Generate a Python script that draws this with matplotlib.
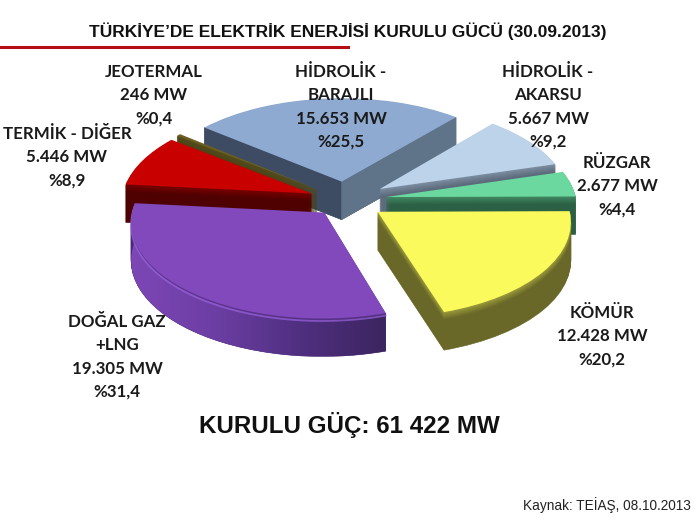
import matplotlib
matplotlib.use('Agg')
import matplotlib.pyplot as plt
import matplotlib.colors as mcolors
import numpy as np
from matplotlib.patches import Polygon
from matplotlib.transforms import Affine2D, Transform

# installed power, MW
names = ['HİDROLİK -\nBARAJLI', 'HİDROLİK -\nAKARSU', 'RÜZGAR', 'KÖMÜR',
         'DOĞAL GAZ\n+LNG', 'TERMİK - DİĞER', 'JEOTERMAL']
mw = [15653, 5667, 2677, 12428, 19305, 5446, 246]
mw_text = ['15.653 MW', '5.667 MW', '2.677 MW', '12.428 MW', '19.305 MW', '5.446 MW', '246 MW']
pct_text = ['%25,5', '%9,2', '%4,4', '%20,2', '%31,4', '%8,9', '%0,4']

top_colors = ['#8eaad1', '#bdd3ea', '#6bd99f', '#fafa5c', '#8149bb', '#c80000', '#6b5f22']
side_colors = ['#4a5a72', '#5c6b7c', '#2c6044', '#696829', '#4a2a75', '#4f0000', '#4a4218']
stack_order = [0, 1, 4, 6, 5, 3, 2]  # back to front, by slice
explode = [0.2, 0.22, 0.22, 0.21, 0.17, 0.19, 0.19]
purple_rim = ['#7d47b6', '#6c3ea3', '#4f2f80', '#3c2560']

# label anchors in pixels (centre x, first line y)
label_pos = [(341, 72), (548, 72), (617, 163), (602, 313), (117, 322), (67, 134), (154, 72)]

W, H = 696, 524
CX, CY = 345, 200
RX, RY = 190, 94
DEPTH = 38
TILT = 0.09


class Tilt(Transform):
    input_dims = output_dims = 2
    is_separable = False
    has_inverse = False

    def transform_non_affine(self, xy):
        xy = np.asarray(xy, dtype=float)
        return xy / (1 + TILT * xy[:, 1])[:, None]


tilt = Tilt()

fig = plt.figure(figsize=(W / 100, H / 100), dpi=100, facecolor='white')
ax = fig.add_axes([0, 0, 1, 1])

top = None
for d in range(DEPTH, -1, -1):
    wedges, _ = ax.pie(mw, explode=explode, startangle=141, counterclock=False, radius=1)
    shift = Affine2D().translate(0, -d / RY)
    for i, w in enumerate(wedges):
        w.set_transform(tilt + shift + ax.transData)
        w.set_clip_on(False)
        w.set_linewidth(0.4 if d else 0)
        z = 10 * stack_order[i] + 5 + (DEPTH - d) / (DEPTH + 1)
        w.set_zorder(z)
        if d == 0:
            w.set_facecolor(top_colors[i])
        else:
            # rim gets a little brighter towards the top surface
            mix = 0.35 * max(0, 1 - d / 8)
            c = (1 - mix) * np.array(mcolors.to_rgb(side_colors[i])) + mix * np.array(mcolors.to_rgb(top_colors[i]))
            w.set_facecolor(c)
            w.set_edgecolor(c)
    top = wedges

ax.set_aspect('auto')
xlim = (-CX / RX, (W - CX) / RX)
ylim = ((CY - H) / RY, CY / RY)


def cut_face(wedge, angle, color):
    # flat cut side of a slice, from apex to rim
    cx, cy = wedge.center
    a = np.deg2rad(angle)
    p = tilt.transform(np.array([[cx, cy], [cx + wedge.r * np.cos(a), cy + wedge.r * np.sin(a)]]))
    dy = np.array([0, DEPTH / RY])
    ax.add_patch(Polygon([p[0], p[1], p[1] - dy, p[0] - dy], facecolor=color, edgecolor=color,
                         linewidth=0.4, zorder=wedge.get_zorder() - 0.01, clip_on=False))


def rim_points(wedge):
    a = np.deg2rad(np.linspace(wedge.theta1, wedge.theta2, 80))
    cx, cy = wedge.center
    return tilt.transform(np.column_stack([cx + wedge.r * np.cos(a), cy + wedge.r * np.sin(a)]))


cut_face(top[0], top[0].theta2, '#3e4c63')
cut_face(top[0], top[0].theta1, '#607489')

# purple rim runs from bright on the left to dark on the right
pw = top[4]
arc = rim_points(pw)
dy = np.array([0, DEPTH / RY])
rim = Polygon(np.vstack([arc, (arc - dy)[::-1]]), transform=ax.transData, facecolor='none', edgecolor='none')
ramp = mcolors.LinearSegmentedColormap.from_list('rim', purple_rim)
img = ax.imshow(np.linspace(0, 1, 256)[None, :], cmap=ramp, aspect='auto', interpolation='bilinear',
                extent=(arc[:, 0].min(), arc[:, 0].max(), (arc - dy)[:, 1].min(), arc[:, 1].max()),
                zorder=pw.get_zorder() - 0.05)
img.set_clip_path(rim)
ax.plot(arc[:, 0], arc[:, 1] - 2.5 / RY, color='#9a62dc', linewidth=1.3, alpha=0.7,
        zorder=pw.get_zorder() - 0.02, solid_capstyle='round')

ax.set_xlim(xlim)
ax.set_ylim(ylim)
ax.axis('off')

label_font = ['Lato', 'DejaVu Sans']
for name, m, pct, (x, y) in zip(names, mw_text, pct_text, label_pos):
    for j, line in enumerate(name.split('\n') + [m, pct]):
        fig.text(x / W, 1 - (y + j * 23.3) / H, line, ha='center', va='center',
                 family=label_font, fontweight='bold', fontsize=12.2, color='#1a1a1a', zorder=20)

fig.text(348 / W, 1 - 31 / H, 'TÜRKİYE’DE ELEKTRİK ENERJİSİ KURULU GÜCÜ (30.09.2013)', ha='center', va='center',
         family='Liberation Sans', fontweight='bold', fontsize=12.5, color='#111111')
fig.add_artist(plt.Line2D([0, 348 / W], [1 - 47 / H, 1 - 47 / H], color='#b30c12', linewidth=2.2))
fig.text(349 / W, 1 - 425 / H, 'KURULU GÜÇ: 61 422 MW', ha='center', va='center',
         family='Liberation Sans', fontweight='bold', fontsize=17.4, color='#111111')
fig.text(691 / W, 1 - 505 / H, 'Kaynak: TEİAŞ, 08.10.2013', ha='right', va='center',
         family='Liberation Sans', fontsize=9.8, color='#222222')

fig.savefig('out.png', dpi=100)
